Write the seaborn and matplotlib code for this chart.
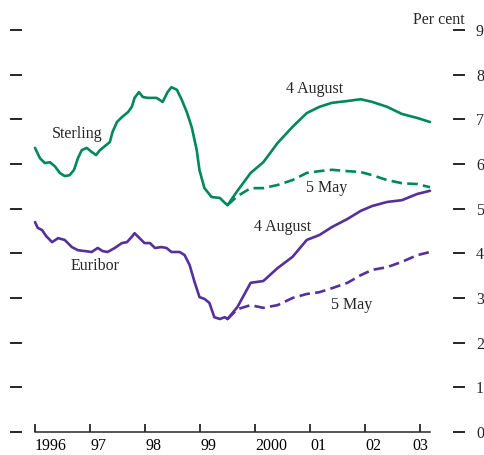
import matplotlib
matplotlib.use("Agg")
import matplotlib.pyplot as plt
import seaborn as sns

sns.set_style("ticks")
plt.rcParams["font.family"] = ["Liberation Serif", "DejaVu Serif"]

GREEN = "#00875c"
PURPLE = "#55309c"

# Sterling: history then two forecast curves
sterling_years = [1996.0, 1996.09, 1996.18, 1996.27, 1996.36, 1996.45, 1996.54, 1996.63,
                  1996.71, 1996.78, 1996.85, 1996.94, 1997.03, 1997.11, 1997.18, 1997.27,
                  1997.36, 1997.41, 1997.49, 1997.58, 1997.69, 1997.76, 1997.81, 1997.89,
                  1997.96, 1998.05, 1998.21, 1998.32, 1998.41, 1998.48, 1998.58, 1998.67,
                  1998.76, 1998.85, 1998.94, 1998.99, 1999.08, 1999.21, 1999.36, 1999.45, 1999.5]
sterling_rate = [6.36, 6.13, 6.02, 6.04, 5.95, 5.80, 5.73, 5.75,
                 5.87, 6.13, 6.31, 6.36, 6.27, 6.20, 6.31, 6.40,
                 6.49, 6.72, 6.94, 7.05, 7.16, 7.28, 7.48, 7.61,
                 7.50, 7.48, 7.48, 7.39, 7.61, 7.72, 7.66, 7.43,
                 7.16, 6.82, 6.31, 5.86, 5.46, 5.26, 5.24, 5.13, 5.08]

fc_years = [1999.5, 1999.68, 1999.92, 2000.15, 2000.41, 2000.68, 2000.94, 2001.17,
            2001.4, 2001.68, 2001.92, 2002.13, 2002.4, 2002.67, 2002.95, 2003.18]
sterling_aug = [5.08, 5.40, 5.80, 6.04, 6.47, 6.83, 7.14, 7.28,
                7.37, 7.41, 7.45, 7.39, 7.28, 7.12, 7.03, 6.94]
sterling_may = [5.08, 5.28, 5.46, 5.46, 5.53, 5.64, 5.80, 5.84,
                5.87, 5.84, 5.82, 5.75, 5.64, 5.57, 5.55, 5.48]

# Euribor
euribor_years = [1996.0, 1996.05, 1996.13, 1996.2, 1996.31, 1996.42, 1996.54, 1996.67,
                 1996.78, 1996.91, 1997.03, 1997.14, 1997.23, 1997.32, 1997.45, 1997.58,
                 1997.67, 1997.76, 1997.81, 1997.9, 1997.99, 1998.09, 1998.18, 1998.3,
                 1998.39, 1998.48, 1998.63, 1998.72, 1998.81, 1998.9, 1998.99, 1999.08,
                 1999.17, 1999.26, 1999.36, 1999.45, 1999.5]
euribor_rate = [4.70, 4.57, 4.52, 4.39, 4.25, 4.34, 4.30, 4.14,
                4.07, 4.05, 4.03, 4.12, 4.05, 4.03, 4.12, 4.23,
                4.25, 4.37, 4.45, 4.34, 4.23, 4.23, 4.12, 4.14,
                4.12, 4.03, 4.03, 3.96, 3.74, 3.36, 3.02, 2.98,
                2.89, 2.57, 2.53, 2.57, 2.53]
euribor_aug = [2.53, 2.80, 3.34, 3.38, 3.67, 3.92, 4.30, 4.41,
               4.59, 4.77, 4.95, 5.06, 5.15, 5.19, 5.33, 5.40]
euribor_may = [2.53, 2.75, 2.84, 2.78, 2.84, 3.00, 3.09, 3.13,
               3.22, 3.34, 3.51, 3.63, 3.69, 3.81, 3.96, 4.03]

year_ticks = [1996, 1997, 1998, 1999, 2000, 2001, 2002, 2003]
year_labels = ["1996", "97", "98", "99", "2000", "01", "02", "03"]

fig = plt.figure(figsize=(4.85, 4.55), dpi=100)
ax = fig.add_axes([35 / 485, 23 / 455, 395 / 485, 402 / 455])

lw = 1.9
dash = (0, (4, 2))
fs = 11.5
sns.lineplot(x=sterling_years, y=sterling_rate, color=GREEN, lw=lw, sort=False, clip_on=False, ax=ax)
sns.lineplot(x=fc_years, y=sterling_aug, color=GREEN, lw=lw, sort=False, clip_on=False, ax=ax)
sns.lineplot(x=fc_years, y=sterling_may, color=GREEN, lw=lw, linestyle=dash, sort=False, clip_on=False, ax=ax)
sns.lineplot(x=euribor_years, y=euribor_rate, color=PURPLE, lw=lw, sort=False, clip_on=False, ax=ax)
sns.lineplot(x=fc_years, y=euribor_aug, color=PURPLE, lw=lw, sort=False, clip_on=False, ax=ax)
sns.lineplot(x=fc_years, y=euribor_may, color=PURPLE, lw=lw, linestyle=dash, sort=False, clip_on=False, ax=ax)

ax.set_xlim(1996, 2003.18)
ax.set_ylim(0, 9)
ax.set_xlabel("")
ax.set_ylabel("")

# x axis: ticks pointing up, labels just right of each tick
ax.set_xticks(year_ticks)
ax.set_xticklabels(year_labels)
ax.tick_params(axis="x", direction="in", length=6, width=1.1, pad=4, labelsize=fs, colors="black")
for i, lab in enumerate(ax.get_xticklabels()):
    lab.set_horizontalalignment("center" if i == len(year_labels) - 1 else "left")

# y axis: detached dashes on both sides, labels on the right only
ax.set_yticks(range(10))
ax.spines["top"].set_visible(False)
ax.spines["left"].set_position(("outward", 9.4))
ax.spines["right"].set_position(("outward", 16.6))
ax.spines["left"].set_color("none")
ax.spines["right"].set_color("none")
ax.spines["bottom"].set_linewidth(1.1)
ax.tick_params(axis="y", which="both", left=True, right=True, labelleft=False, labelright=True,
               direction="out", length=8.5, width=1.4, pad=8.0, labelsize=fs)

ax.text(1.087, 1.015, "Per cent", transform=ax.transAxes, ha="right", va="baseline", fontsize=fs)

ax.text(1996.76, 6.67, "Sterling", ha="center", va="center", fontsize=fs)
ax.text(1997.09, 3.72, "Euribor", ha="center", va="center", fontsize=fs)
ax.text(2001.08, 7.68, "4 August", ha="center", va="center", fontsize=fs)
ax.text(2001.31, 5.46, "5 May", ha="center", va="center", fontsize=fs)
ax.text(2000.50, 4.59, "4 August", ha="center", va="center", fontsize=fs)
ax.text(2001.75, 2.84, "5 May", ha="center", va="center", fontsize=fs)

fig.savefig("out.png", dpi=100)
